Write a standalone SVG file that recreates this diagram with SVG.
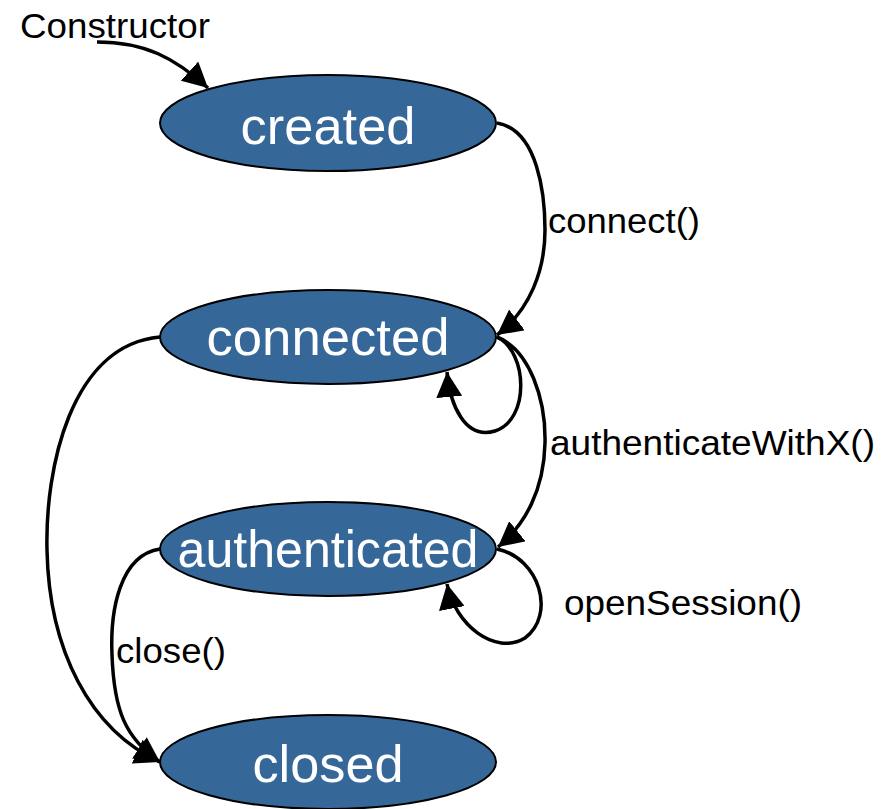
<svg xmlns="http://www.w3.org/2000/svg" width="894" height="809" viewBox="0 0 894 809">
  <style>
    .node ellipse { fill: #356899; stroke: #000; stroke-width: 2; }
    .node text { fill: #fff; font-family: "Liberation Sans", Arial, sans-serif; font-size: 52px; text-anchor: middle; }
    .edge { fill: none; stroke: #000; stroke-width: 3.5; marker-end: url(#arrow); }
    .label { fill: #000; font-family: "Liberation Sans", Arial, sans-serif; font-size: 35px; }
  </style>
  <defs>
    <marker id="arrow" markerUnits="userSpaceOnUse" markerWidth="27" markerHeight="26" refX="25" refY="13" orient="auto" viewBox="0 0 27 26">
      <path d="M0,0 L25,13 L0,26 z" fill="#000"/>
    </marker>
  </defs>
  <rect width="894" height="809" fill="#fff"/>
  <g id="node-created" class="node">
    <ellipse cx="328" cy="123" rx="168" ry="48"/>
    <text x="328" y="144" textLength="175" lengthAdjust="spacingAndGlyphs">created</text>
  </g>
  <g id="node-connected" class="node">
    <ellipse cx="328" cy="337" rx="168" ry="47"/>
    <text x="328" y="355" textLength="243" lengthAdjust="spacingAndGlyphs">connected</text>
  </g>
  <g id="node-authenticated" class="node">
    <ellipse cx="328" cy="549" rx="168" ry="47"/>
    <text x="328" y="567" textLength="301" lengthAdjust="spacingAndGlyphs">authenticated</text>
  </g>
  <g id="node-closed" class="node">
    <ellipse cx="328" cy="762" rx="168" ry="47"/>
    <text x="328" y="782" textLength="151" lengthAdjust="spacingAndGlyphs">closed</text>
  </g>
  <g id="connectors">
    <path class="edge" d="M97,42 C145,42 175,58 208,88"/>
    <path class="edge" d="M497,123 C538,130 545,195 545,230 C545,270 530,310 497,335"/>
    <path class="edge" d="M497,337 C528,352 530,420 495,431 C465,440 450,405 447,372"/>
    <path class="edge" d="M497,337 C530,350 546,400 545,443 C544,490 525,525 498,547"/>
    <path class="edge" d="M497,549 C540,558 556,615 525,638 C495,656 455,625 447,584"/>
    <path class="edge" d="M160,337 C70,345 45,470 47,550 C49,650 90,730 160,762"/>
    <path class="edge" d="M160,549 C120,555 110,610 112,655 C114,710 125,738 160,762"/>
    <text class="label" x="20" y="38" textLength="190" lengthAdjust="spacingAndGlyphs">Constructor</text>
    <text class="label" x="548" y="233" textLength="152" lengthAdjust="spacingAndGlyphs">connect()</text>
    <text class="label" x="550" y="455" textLength="325" lengthAdjust="spacingAndGlyphs">authenticateWithX()</text>
    <text class="label" x="564" y="615" textLength="238" lengthAdjust="spacingAndGlyphs">openSession()</text>
    <text class="label" x="116" y="663" textLength="110" lengthAdjust="spacingAndGlyphs">close()</text>
  </g>
</svg>
